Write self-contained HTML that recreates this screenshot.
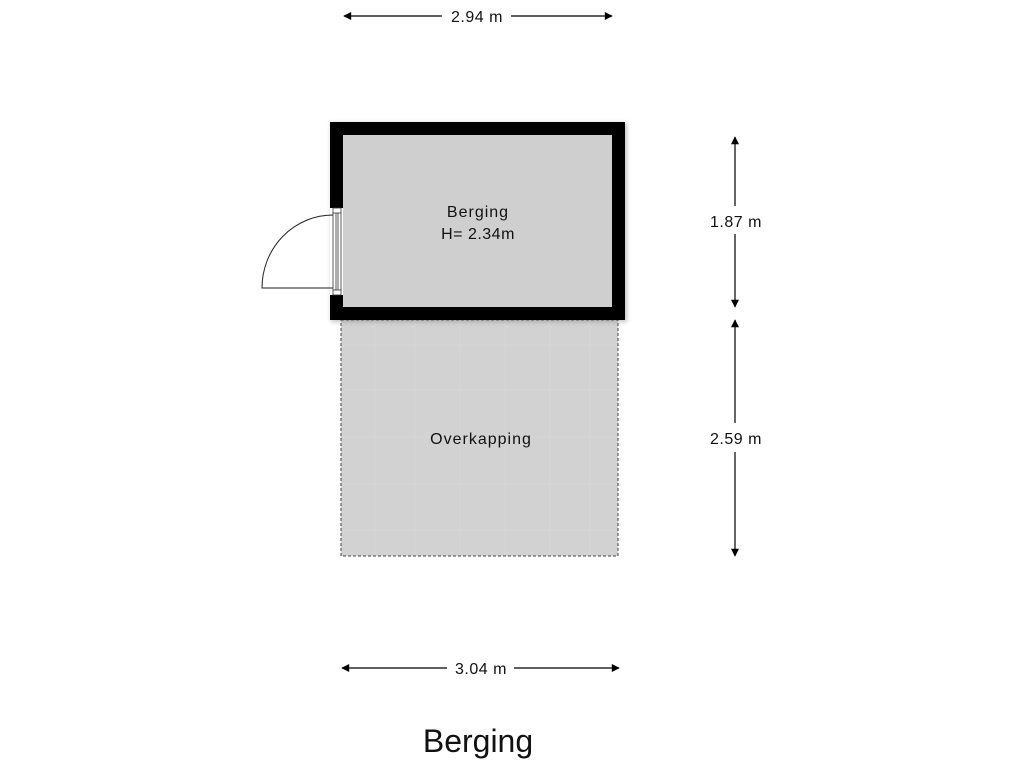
<!DOCTYPE html>
<html><head><meta charset="utf-8"><style>
html,body{margin:0;padding:0;background:#fff;width:1024px;height:768px;overflow:hidden}
svg{display:block}
text{font-family:"Liberation Sans",Arial,sans-serif;fill:#111}
</style></head><body>
<svg width="1024" height="768" viewBox="0 0 1024 768" xmlns="http://www.w3.org/2000/svg">
<defs>
<marker id="a" viewBox="0 0 10 10" refX="9" refY="5" markerWidth="10" markerHeight="8" markerUnits="userSpaceOnUse" orient="auto-start-reverse"><path d="M0,0L10,5L0,10z" fill="#000"/></marker>
<filter id="sh" x="-10%" y="-10%" width="120%" height="120%"><feGaussianBlur stdDeviation="2"/></filter>
</defs>
<rect x="341" y="320" width="277" height="236" fill="#d2d2d2" stroke="#444" stroke-width="1" stroke-dasharray="3,2"/>
<g stroke="#d6d6d6" stroke-width="1">
<line x1="342" y1="345" x2="617" y2="345"/><line x1="342" y1="390" x2="617" y2="390"/><line x1="342" y1="437" x2="617" y2="437"/><line x1="342" y1="484" x2="617" y2="484"/><line x1="342" y1="530" x2="617" y2="530"/>
<line x1="375" y1="321" x2="375" y2="555"/><line x1="415" y1="321" x2="415" y2="555"/><line x1="460" y1="321" x2="460" y2="555"/><line x1="505" y1="321" x2="505" y2="555"/><line x1="550" y1="321" x2="550" y2="555"/><line x1="590" y1="321" x2="590" y2="555"/>
</g>
<rect x="331" y="123" width="296" height="199" fill="#888" filter="url(#sh)" opacity="0.5"/>
<rect x="330" y="122" width="295" height="198" fill="#000"/>
<rect x="343" y="135" width="269" height="172" fill="#cfcfcf"/>
<rect x="330" y="208" width="13" height="87" fill="#fff"/>
<rect x="333" y="208" width="8" height="87" fill="#fff" stroke="#333" stroke-width="0.8"/>
<line x1="336" y1="213" x2="336" y2="290" stroke="#333" stroke-width="0.8"/>
<line x1="338" y1="213" x2="338" y2="290" stroke="#333" stroke-width="0.8"/>
<line x1="333" y1="213" x2="341" y2="213" stroke="#333" stroke-width="0.8"/>
<line x1="333" y1="290" x2="341" y2="290" stroke="#333" stroke-width="0.8"/>
<path d="M333,288 L262,288 A71,73 0 0 1 333,215" fill="none" stroke="#222" stroke-width="1"/>
<text x="478" y="217" font-size="16" letter-spacing="1" text-anchor="middle">Berging</text>
<text x="478" y="239" font-size="16" letter-spacing="0.5" text-anchor="middle">H= 2.34m</text>
<text x="481" y="444" font-size="16" letter-spacing="1" text-anchor="middle">Overkapping</text>
<g stroke="#000" stroke-width="1.2">
<line x1="344" y1="16" x2="442" y2="16" marker-start="url(#a)"/>
<line x1="511" y1="16" x2="612" y2="16" marker-end="url(#a)"/>
<line x1="342" y1="668" x2="447" y2="668" marker-start="url(#a)"/>
<line x1="514" y1="668" x2="619" y2="668" marker-end="url(#a)"/>
<line x1="735" y1="137" x2="735" y2="206" marker-start="url(#a)"/>
<line x1="735" y1="234" x2="735" y2="307" marker-end="url(#a)"/>
<line x1="735" y1="320" x2="735" y2="423" marker-start="url(#a)"/>
<line x1="735" y1="452" x2="735" y2="556" marker-end="url(#a)"/>
</g>
<text x="477" y="22" font-size="16" letter-spacing="0.5" text-anchor="middle">2.94 m</text>
<text x="481" y="674" font-size="16" letter-spacing="0.5" text-anchor="middle">3.04 m</text>
<text x="736" y="227" font-size="16" letter-spacing="0.5" text-anchor="middle">1.87 m</text>
<text x="736" y="444" font-size="16" letter-spacing="0.5" text-anchor="middle">2.59 m</text>
<text x="478" y="752" font-size="32" text-anchor="middle">Berging</text>
</svg>
</body></html>
